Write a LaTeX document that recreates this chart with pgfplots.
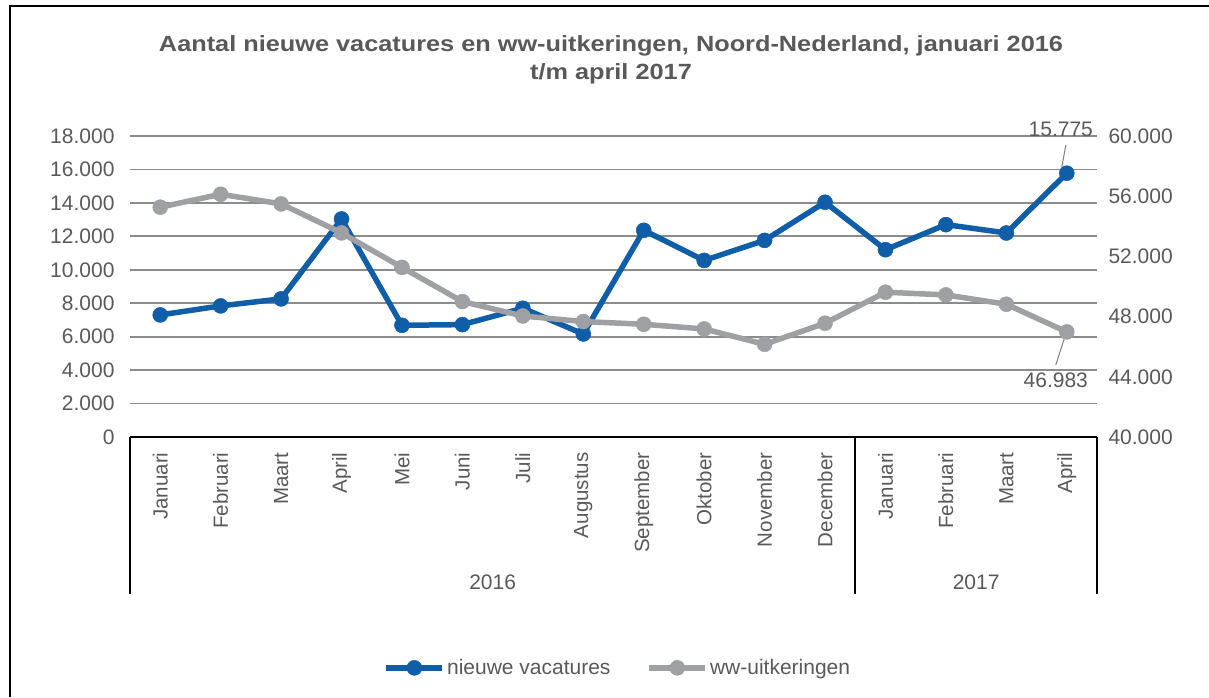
\documentclass[border=0pt]{standalone}
\usepackage{pgfplots}
\pgfplotsset{compat=1.18}
\usepackage{pgfplotstable}
\usepackage{fontspec}
\setmainfont{Liberation Sans}
\newfontfamily\titlefont[FakeStretch=1.15]{Liberation Sans}

\definecolor{vacblue}{RGB}{16,94,168}
\definecolor{wwgray}{RGB}{158,160,163}
\definecolor{txtgray}{RGB}{89,89,89}
\definecolor{gridgray}{RGB}{140,140,140}

% maand, nieuwe vacatures, ww-uitkeringen
\pgfplotstableread{
m  vac    ww
1  7300   55270
2  7840   56130
3  8260   55490
4  13040  53560
5  6680   51270
6  6720   49000
7  7700   48040
8  6160   47670
9  12360  47490
10 10560  47180
11 11760  46160
12 14040  47560
13 11200  49620
14 12700  49440
15 12200  48820
16 15775  46983
}\data

\newcommand{\lbl}{\fontsize{21}{24}\selectfont}
\newcommand{\mlbl}{\fontsize{20.5}{24}\selectfont}

\begin{document}
\begin{tikzpicture}
  \useasboundingbox (0pt,0pt) rectangle (1209pt,697pt);
  \draw[black, line width=2pt] (10pt,0pt) -- (10pt,691pt) -- (1209pt,691pt);
  \node[font=\titlefont\bfseries\fontsize{22}{28}\selectfont, text=txtgray, align=center]
    at (611pt,637pt) {Aantal nieuwe vacatures en ww-uitkeringen, Noord-Nederland, januari 2016\\t/m april 2017};

  \begin{axis}[at={(130pt,260pt)}, anchor=south west, scale only axis,
      width=967pt, height=301pt,
      xmin=0.5, xmax=16.5, ymin=0, ymax=18000,
      xtick={1,...,16},
      xticklabels={Januari,Februari,Maart,April,Mei,Juni,Juli,Augustus,September,Oktober,November,December,Januari,Februari,Maart,April},
      x tick label style={yshift=-12pt, rotate=90, anchor=east, font=\mlbl, text=txtgray},
      ytick={0,2000,...,18000},
      y tick label style={font=\lbl, text=txtgray, xshift=-12pt},
      scaled y ticks=false,
      /pgf/number format/.cd, 1000 sep={.}, assume math mode=true, /pgfplots/.cd,
      ymajorgrids, grid style={gridgray, line width=1.8pt},
      axis x line*=bottom, axis y line*=left,
      y axis line style={draw=none},
      x axis line style={black, line width=1.8pt, -},
      major tick length=0pt,
      clip=false,
      legend columns=2,
      legend style={at={(0.5045,-0.767)}, anchor=center, draw=none, fill=none,
        font=\lbl, text=txtgray, inner sep=0pt,
        /tikz/every even column/.append style={column sep=34pt}},
      legend image code/.code={\draw[mark repeat=2, mark phase=2] plot coordinates {(0pt,0pt)(28pt,0pt)(56pt,0pt)};},
    ]
    \addplot[vacblue, line width=5.5pt, mark=*, mark size=7.5pt,
      mark options={solid, line width=0.5pt, fill=vacblue}] table[x=m, y=vac] {\data};
    \addlegendentry{nieuwe vacatures}
    \addlegendimage{wwgray, line width=5.5pt, mark=*, mark size=7.5pt, mark options={solid, line width=0.5pt, fill=wwgray}}
    \addlegendentry{ww-uitkeringen}
    \draw[gray, line width=1pt] (axis cs:16,15775) ++(-1pt,28pt) -- ++(-4pt,-22pt);
    \node[font=\lbl, text=txtgray] at (axis cs:16,15775) [yshift=44pt, xshift=-6pt] {15.775};
    % categorie-as
    \draw[black, line width=1.8pt] (axis cs:0.5,0) -- ++(0pt,-157pt);
    \draw[black, line width=1.8pt] (axis cs:12.5,0) -- ++(0pt,-157pt);
    \draw[black, line width=1.8pt] (axis cs:16.5,0) -- ++(0pt,-157pt);
    \node[font=\lbl, text=txtgray] at (axis cs:6.5,0) [yshift=-145pt] {2016};
    \node[font=\lbl, text=txtgray] at (axis cs:14.5,0) [yshift=-145pt] {2017};
  \end{axis}

  \begin{axis}[at={(130pt,260pt)}, anchor=south west, scale only axis,
      width=967pt, height=301pt,
      xmin=0.5, xmax=16.5, ymin=40000, ymax=60000,
      axis x line=none, axis y line*=right,
      y axis line style={draw=none},
      ytick={40000,44000,...,60000},
      y tick label style={font=\lbl, text=txtgray, xshift=8pt},
      scaled y ticks=false,
      /pgf/number format/.cd, 1000 sep={.}, assume math mode=true, /pgfplots/.cd,
      major tick length=0pt,
      clip=false,
    ]
    \addplot[wwgray, line width=5.5pt, mark=*, mark size=7.5pt,
      mark options={solid, line width=0.5pt, fill=wwgray}] table[x=m, y=ww] {\data};
    \draw[gray, line width=1pt] (axis cs:16,46983) ++(-1pt,-2pt) -- ++(-10pt,-31pt);
    \node[font=\lbl, text=txtgray] at (axis cs:16,46983) [yshift=-48pt, xshift=-11pt] {46.983};
  \end{axis}
\end{tikzpicture}
\end{document}
